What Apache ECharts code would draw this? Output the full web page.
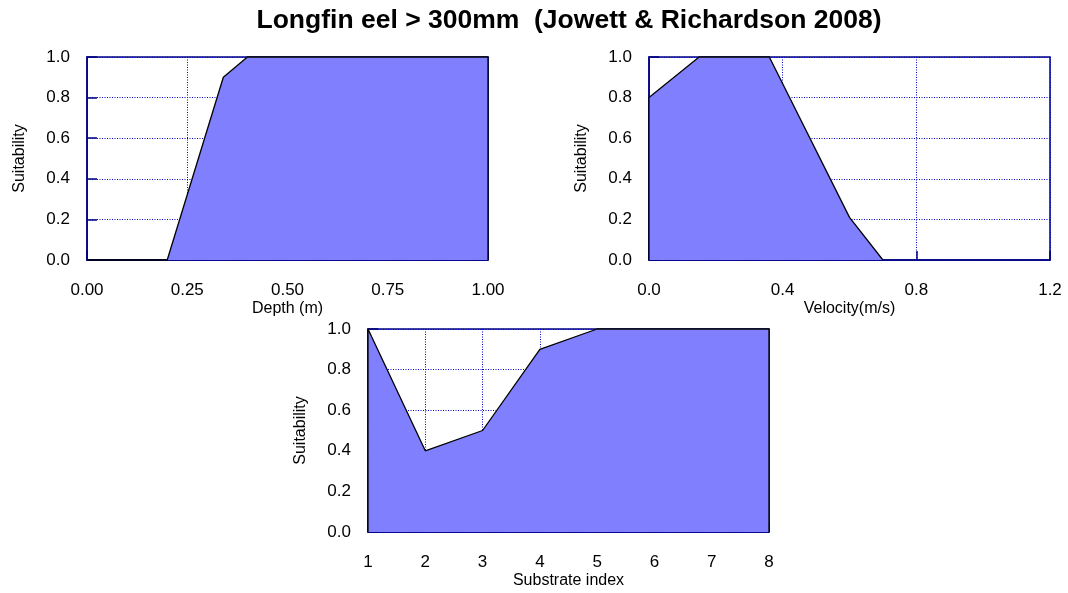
<!DOCTYPE html>
<html>
<head>
<meta charset="utf-8">
<script src="https://cdn.jsdelivr.net/npm/echarts@6/dist/echarts.min.js"></script>
<style>
html,body{margin:0;padding:0;background:#fff;}
#chart{width:1068px;height:593px;}
</style>
</head>
<body>
<div id="chart"></div>
<script>
// ---- data ----
const titleText = 'Longfin eel > 300mm  (Jowett & Richardson 2008)';
const yName = 'Suitability';

const depthX = [0.0, 0.2, 0.34, 0.4, 1.0, 1.0];
const depthY = [0.0, 0.0, 0.9, 1.0, 1.0, 0.0];

const velX = [0.0, 0.0, 0.15, 0.36, 0.6, 0.7];
const velY = [0.0, 0.8, 1.0, 1.0, 0.21, 0.0];

const subX = [1, 1, 2, 3, 4, 5, 8, 8];
const subY = [0.0, 1.0, 0.4, 0.5, 0.9, 1.0, 1.0, 0.0];

const depthTicks = [0.0, 1.0, 0.25];   // min, max, interval
const velTicks = [0.0, 1.2, 0.4];
const subTicks = [1, 8, 1];
const yTicks = [0.0, 1.0, 0.2];

const xNames = ['Depth (m)', 'Velocity(m/s)', 'Substrate index'];
const xDecimals = [2, 1, 0];

// ---- chart ----
const FONT = 'Liberation Sans, Arial, sans-serif';
const NAVY = '#000080';
const chart = echarts.init(document.getElementById('chart'), null, {renderer: 'canvas'});

const grids = [
  {left: 87, top: 57, width: 401, height: 203},
  {left: 649, top: 57, width: 401, height: 203},
  {left: 368, top: 329, width: 401, height: 203}
];
const xt = [depthTicks, velTicks, subTicks];
const seriesData = [
  depthX.map((x, i) => [x, depthY[i]]),
  velX.map((x, i) => [x, velY[i]]),
  subX.map((x, i) => [x, subY[i]])
];

const gridLine = {show: true, lineStyle: {color: '#0000c0', type: [1, 1.5], width: 1}};

const option = {
  animation: false,
  backgroundColor: '#fff',
  graphic: [{
    type: 'text', x: 569, y: 21,
    style: {text: titleText, font: 'bold 26.5px ' + FONT, fill: '#000',
            textAlign: 'center', textVerticalAlign: 'middle'}
  }],
  grid: grids.map(g => Object.assign({show: true, borderColor: NAVY, borderWidth: 1.5, backgroundColor: '#fff'}, g)),
  xAxis: grids.map((g, i) => ({
    type: 'value', gridIndex: i,
    min: xt[i][0], max: xt[i][1], interval: xt[i][2],
    name: xNames[i], nameLocation: 'middle', nameGap: 41,
    nameTextStyle: {fontFamily: FONT, fontSize: 16, color: '#000'},
    axisLine: {show: true, onZero: false, lineStyle: {color: NAVY, width: 1.5}},
    axisTick: {show: true, inside: true, length: 9, lineStyle: {color: NAVY, width: 1.5}},
    axisLabel: {fontFamily: FONT, fontSize: 17, color: '#000', margin: 22,
                formatter: v => v.toFixed(xDecimals[i])},
    splitLine: gridLine
  })),
  yAxis: grids.map((g, i) => ({
    type: 'value', gridIndex: i,
    min: yTicks[0], max: yTicks[1], interval: yTicks[2],
    name: yName, nameLocation: 'middle', nameGap: 59,
    nameTextStyle: {fontFamily: FONT, fontSize: 16, color: '#000'},
    axisLine: {show: true, lineStyle: {color: NAVY, width: 1.5}},
    axisTick: {show: true, inside: true, length: 10, lineStyle: {color: NAVY, width: 1.5}},
    axisLabel: {fontFamily: FONT, fontSize: 17, color: '#000', margin: 17,
                formatter: v => v.toFixed(1)},
    splitLine: gridLine
  })),
  series: seriesData.map((d, i) => ({
    type: 'line', xAxisIndex: i, yAxisIndex: i,
    data: d, showSymbol: false, symbol: 'none',
    lineStyle: {color: '#000', width: 1.3},
    areaStyle: {color: '#8080ff', opacity: 1},
    clip: false, z: 3
  }))
};
chart.setOption(option);
</script>
</body>
</html>
